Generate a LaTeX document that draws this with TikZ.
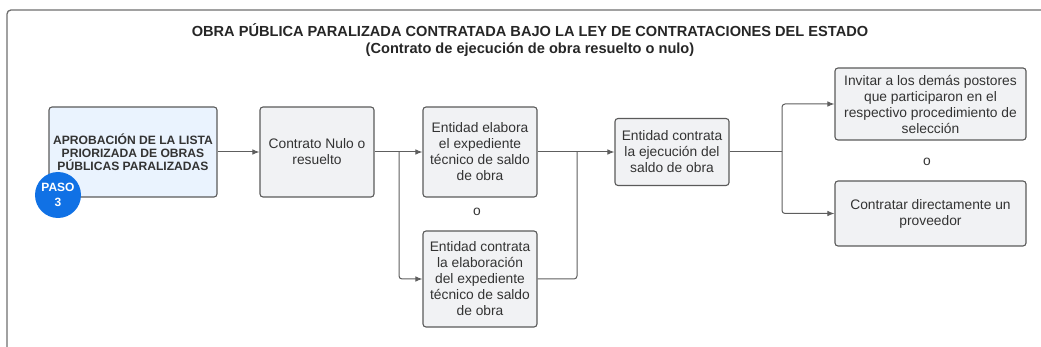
\documentclass[tikz,border=0pt]{standalone}
\usepackage{fontspec}
\setmainfont{Liberation Sans}
\usetikzlibrary{arrows.meta}
\definecolor{linegray}{HTML}{5E5E5E}
\definecolor{boxedge}{HTML}{5A5A5A}
\definecolor{boxfill}{HTML}{F1F2F4}
\definecolor{firstfill}{HTML}{EAF3FE}
\definecolor{textgray}{HTML}{333333}
\definecolor{pasoblue}{HTML}{1071E5}
\definecolor{framegray}{HTML}{6E6E6E}

\begin{document}
\begin{tikzpicture}[x=1pt,y=-1pt,>={Latex[length=7pt,width=5.5pt]},
    box/.style={draw=boxedge,fill=boxfill,rounded corners=3pt,line width=1.1pt,align=center,
        font=\fontsize{13.8}{16}\selectfont,text=textgray,inner sep=1pt},
    conn/.style={draw=linegray,line width=1pt,rounded corners=3pt}]
        \useasboundingbox (0,0) rectangle (1041,347);
        \clip (0,0) rectangle (1041,347);
        \draw[framegray,line width=1.3pt,rounded corners=4pt] (7,10) rectangle (1060,370);
        % title
        \node[align=center,font=\bfseries\fontsize{14.6}{17}\selectfont,text=black!85] (title) at (530,40)
            {OBRA PÚBLICA PARALIZADA CONTRATADA BAJO LA LEY DE CONTRATACIONES DEL ESTADO\\
             (Contrato de ejecución de obra resuelto o nulo)};
        % boxes
        \node[box,fill=firstfill,minimum width=168pt,minimum height=90pt,
            font=\bfseries\fontsize{12.1}{13.3}\selectfont] (lista) at (133,152)
            {APROBACIÓN DE LA LISTA\\PRIORIZADA DE OBRAS\\PÚBLICAS PARALIZADAS};
        \node[circle,fill=pasoblue,minimum size=46pt,inner sep=0pt,text=white,align=center,
            font=\bfseries\fontsize{12}{15}\selectfont] (paso) at (58,195) {PASO\\3};
        \node[box,minimum width=114pt,minimum height=90pt] (nulo) at (317,152)
            {Contrato Nulo o\\resuelto};
        \node[box,minimum width=114pt,minimum height=90pt] (elabora) at (480,152)
            {Entidad elabora\\el expediente\\técnico de saldo\\de obra};
        \node[box,minimum width=114pt,minimum height=96pt] (contrataexp) at (480,279)
            {Entidad contrata\\la elaboración\\del expediente\\técnico de saldo\\de obra};
        \node[text=textgray,font=\fontsize{13.8}{16}\selectfont] (or1) at (477,212) {o};
        \node[box,minimum width=114pt,minimum height=67pt] (ejecucion) at (672,152)
            {Entidad contrata\\la ejecución del\\saldo de obra};
        \node[box,minimum width=191pt,minimum height=72pt] (invitar) at (930.5,104)
            {Invitar a los demás postores\\que participaron en el\\respectivo procedimiento de\\selección};
        \node[text=textgray,font=\fontsize{13.8}{16}\selectfont] (or2) at (927,162) {o};
        \node[box,minimum width=191pt,minimum height=65pt] (directo) at (930.5,213.5)
            {Contratar directamente un\\proveedor};
        % connectors
        \coordinate (split1) at (399,152);
        \coordinate (merge) at (577,152);
        \coordinate (split2) at (782,152);
        \draw[conn,->] (lista) -- (nulo);
        \draw[conn,->] (nulo) -- (elabora);
        \draw[conn,->] (split1) |- (contrataexp.west);
        \draw[conn,->] (elabora) -- (ejecucion.west |- elabora);
        \draw[conn] (contrataexp.east) -| (merge);
        \draw[conn] (ejecucion.east |- split2) -- (split2);
        \draw[conn,->] (split2) |- (invitar.west);
        \draw[conn,->] (split2) |- (directo.west);
\end{tikzpicture}
\end{document}
